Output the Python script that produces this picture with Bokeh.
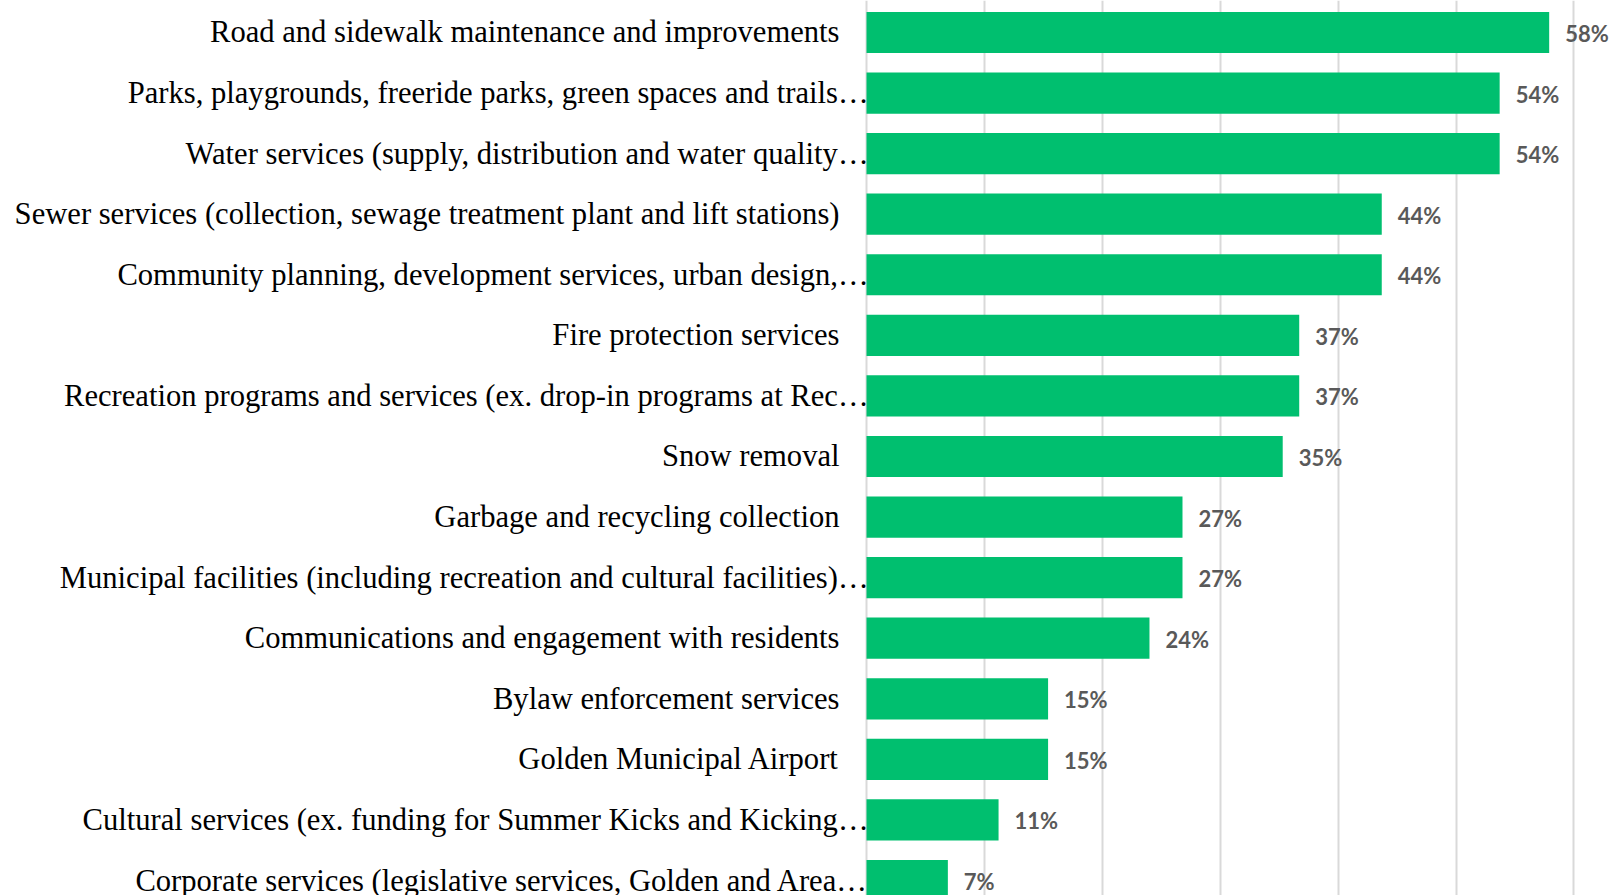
from bokeh.plotting import figure
from bokeh.models import ColumnDataSource, Range1d, FixedTicker
from bokeh.core.properties import value
from bokeh.embed import file_html
from bokeh.resources import INLINE

categories = [
    "Road and sidewalk maintenance and improvements",
    "Parks, playgrounds, freeride parks, green spaces and trails…",
    "Water services (supply, distribution and water quality…",
    "Sewer services (collection, sewage treatment plant and lift stations)",
    "Community planning, development services, urban design,…",
    "Fire protection services",
    "Recreation programs and services (ex. drop-in programs at Rec…",
    "Snow removal",
    "Garbage and recycling collection",
    "Municipal facilities (including recreation and cultural facilities)…",
    "Communications and engagement with residents",
    "Bylaw enforcement services",
    "Golden Municipal Airport",
    "Cultural services (ex. funding for Summer Kicks and Kicking…",
    "Corporate services (legislative services, Golden and Area…",
]
values = [57.9, 53.7, 53.7, 43.7, 43.7, 36.7, 36.7, 35.3, 26.8, 26.8, 24.0, 15.4, 15.4, 11.2, 6.9]
value_labels = ["58%", "54%", "54%", "44%", "44%", "37%", "37%", "35%", "27%", "27%",
                "24%", "15%", "15%", "11%", "7%"]
grid_ticks = [0, 10, 20, 30, 40, 50, 60]

ypos = list(range(len(categories)))
label_offsets = [2 if c.endswith("…") else -27 for c in categories]

src = ColumnDataSource(dict(
    y=ypos, v=values, cat=categories, vl=value_labels, zero=[0] * len(ypos),
    loff=label_offsets,
))

p = figure(width=1616, height=895, output_backend="svg", toolbar_location=None,
           x_range=Range1d(-73.45, 63.61), y_range=Range1d(14.2475, -0.528),
           min_border=0, min_border_left=0, min_border_right=0,
           min_border_top=0, min_border_bottom=0)
p.outline_line_color = None
p.background_fill_color = "white"
p.border_fill_color = "white"
p.xaxis.visible = False
p.yaxis.visible = False
p.ygrid.visible = False
p.xgrid.ticker = FixedTicker(ticks=grid_ticks)
p.xgrid.grid_line_color = "#d9d9d9"
p.xgrid.grid_line_width = 2

p.hbar(y="y", left=0, right="v", height=0.68, source=src,
       fill_color="#00BF6F", line_color=None)

p.text(x="zero", y="y", text="cat", source=src, x_offset="loff",
       text_align="right", text_baseline="middle",
       text_font=value("Liberation Serif"), text_font_size="30.6px",
       text_color="#000000")

p.text(x="v", y="y", text="vl", source=src, x_offset=16, y_offset=1,
       text_align="left", text_baseline="middle",
       text_font=value("Lato"), text_font_style="bold", text_font_size="22px",
       text_color="#595959")

open("out.html", "w").write(file_html(p, INLINE))
